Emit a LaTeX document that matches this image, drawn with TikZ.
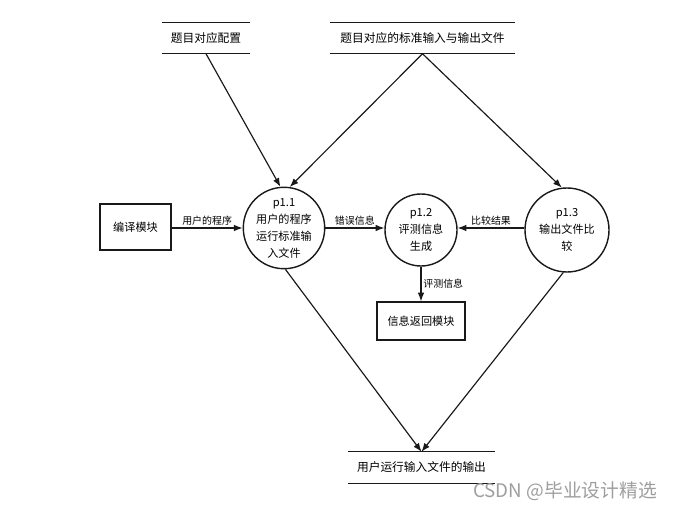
\documentclass[tikz,border=0pt]{standalone}
\usepackage{fontspec}
\newfontfamily\cjk{Noto Sans CJK SC}
\usetikzlibrary{arrows.meta}
\definecolor{LineClr}{rgb}{0.1,0.1,0.1}
\definecolor{MarkClr}{rgb}{0.62,0.62,0.62}

\begin{document}
\begin{tikzpicture}[x=0.03cm,y=-0.03cm,
  font=\cjk\fontsize{9.5}{14.5}\selectfont,
  proc/.style={circle,draw=LineClr,line width=1.2pt,inner sep=0pt,align=center},
  ext/.style={rectangle,draw=LineClr,line width=1.2pt,inner sep=0pt},
  store/.style={inner sep=0pt,font=\cjk\fontsize{10}{12}\selectfont},
  flow/.style={-{Latex[length=2.6mm,width=2mm]},line width=1pt,draw=LineClr},
  lbl/.style={inner sep=1.5pt,font=\cjk\fontsize{8.5}{10}\selectfont}]
\useasboundingbox (0,0) rectangle (676,510);

% data stores
\node[store,minimum width=2.64cm,minimum height=0.93cm] (cfg) at (206,38) {题目对应配置};
\node[store,minimum width=5.55cm,minimum height=0.93cm] (std) at (422.5,38) {题目对应的标准输入与输出文件};
\node[store,minimum width=4.41cm,minimum height=0.93cm] (out) at (421.5,467.5) {用户运行输入文件的输出};
\foreach \s in {cfg,std,out}
  \draw[line width=1.2pt,LineClr] (\s.north west) -- (\s.north east) (\s.south west) -- (\s.south east);

% processes
\node[proc,minimum size=2.4cm] (p11) at (284,228) {p1.1\\用户的程序\\运行标准输\\入文件};
\node[proc,minimum size=2.16cm] (p12) at (421,230) {p1.2\\评测信息\\生成};
\node[proc,minimum size=2.52cm] (p13) at (567,230) {p1.3\\输出文件比\\较};

% external entities
\node[ext,minimum width=2.13cm,minimum height=1.38cm] (cmp) at (135.5,227) {编译模块};
\node[ext,minimum width=2.64cm,minimum height=1.14cm] (ret) at (421,321) {信息返回模块};

% flows
\draw[flow] (cfg.south) -- (p11.95);
\draw[flow] (std.south) -- (p11.82);
\draw[flow] (std.south) -- (p13.97);
\draw[flow] (cmp.east |- 0,228) -- node[lbl,above] {用户的程序} (p11.west |- 0,228);
\draw[flow] (p11.east |- 0,228) -- node[lbl,above] {错误信息} (p12.west |- 0,228);
\draw[flow] (p13.west |- 0,228) -- node[lbl,above] {比较结果} (p12.east |- 0,228);
\draw[flow] (p12.south) -- node[lbl,right] {评测信息} (ret.north);
\draw[flow] (p11.-88) -- (out.north);
\draw[flow] (p13.-95) -- (out.north);

\node[text=MarkClr,inner sep=0pt,font=\cjk\fontsize{16}{16}\selectfont] (mark) at (565,491) {CSDN @毕业设计精选};
\end{tikzpicture}
\end{document}
